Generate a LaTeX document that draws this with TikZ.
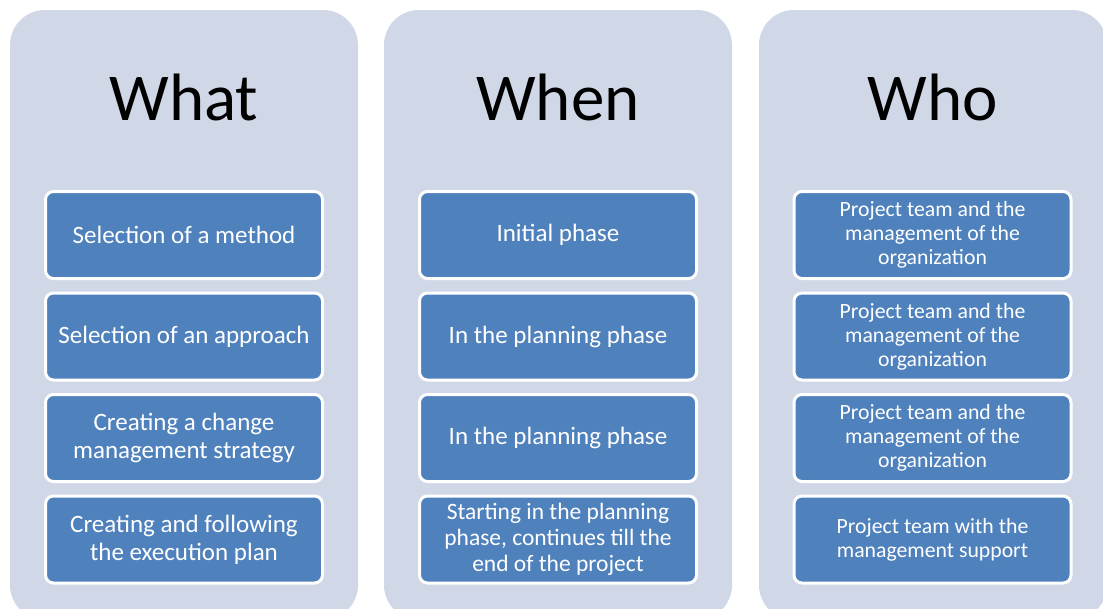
\documentclass[tikz,border=0pt]{standalone}
\usepackage{fontspec}
\setmainfont{Carlito}
\definecolor{panelgray}{HTML}{D0D8E8}
\definecolor{itemblue}{HTML}{4F81BD}
\tikzset{
  panel/.style={fill=panelgray, rounded corners=35pt, minimum width=348pt,
    minimum height=610pt, inner sep=0pt},
  heading/.style={anchor=base, font=\fontsize{67}{80}\selectfont},
  item/.style={fill=itemblue, draw=white, line width=3pt, rounded corners=8pt,
    minimum width=277pt, minimum height=87pt, inner sep=0pt, align=center,
    text=white, font=\fontsize{25}{28}\selectfont},
  itemmid/.style={item, font=\fontsize{23.5}{26}\selectfont},
  itemsmall/.style={item, font=\fontsize{21.75}{24}\selectfont}
}
\begin{document}
\begin{tikzpicture}[x=1pt, y=-1pt]
  \clip (0,0) rectangle (1103,608);
  \node[panel] (whatbg) at (184,315) {};
  \node[panel] (whenbg) at (558,315) {};
  \node[panel] (whobg) at (933,315) {};

  \node[heading] (what) at (184,120) {What};
  \node[heading] (when) at (558,120) {When};
  \node[heading] (who) at (933,120) {Who};

  \node[item] (what1) at (184,235) {Selection of a method};
  \node[item] (what2) at (184,336.5) {Selection of an approach};
  \node[item] (what3) at (184,438) {Creating a change\\management strategy};
  \node[item] (what4) at (184,539.5) {Creating and following\\the execution plan};

  \node[item] (when1) at (558,235) {Initial phase};
  \node[item] (when2) at (558,336.5) {In the planning phase};
  \node[item] (when3) at (558,438) {In the planning phase};
  \node[itemmid] (when4) at (558,539.5) {Starting in the planning\\phase, continues till the\\end of the project};

  \node[itemsmall] (who1) at (932.5,235) {Project team and the\\management of the\\organization};
  \node[itemsmall] (who2) at (932.5,336.5) {Project team and the\\management of the\\organization};
  \node[itemsmall] (who3) at (932.5,438) {Project team and the\\management of the\\organization};
  \node[itemsmall] (who4) at (932.5,539.5) {Project team with the\\management support};
\end{tikzpicture}
\end{document}
